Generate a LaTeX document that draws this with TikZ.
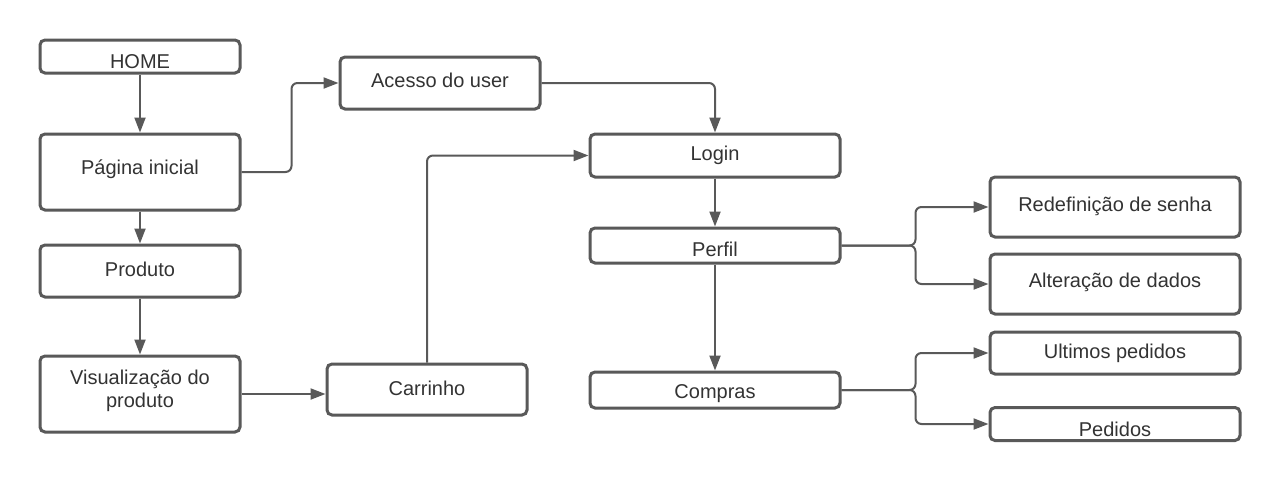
\documentclass[tikz,border=0pt]{standalone}
\usepackage{fontspec}
\setmainfont{Liberation Sans}
\usetikzlibrary{arrows.meta}
\definecolor{edge}{HTML}{595959}
\definecolor{txt}{HTML}{333333}
\newcommand{\txtshift}[2]{\raisebox{#1}[\height][\depth]{#2}}
\begin{document}
\begin{tikzpicture}[x=1pt,y=-1pt,
  box/.style={draw=edge, line width=3pt, rounded corners=5pt, fill=white,
    text=txt, font=\fontsize{20}{24}\selectfont, inner sep=0pt, align=center},
  conn/.style={draw=edge, line width=2pt, rounded corners=6pt,
    -{Triangle[length=15pt,width=11pt]}}]
\useasboundingbox[fill=white] (0,0) rectangle (1280,480);

\node[box, minimum width=200pt, minimum height=33pt] (home) at (140,56.5) {\txtshift{-5pt}{HOME}};
\node[box, minimum width=200pt, minimum height=76pt] (pag) at (140,172) {\txtshift{2.5pt}{Página inicial}};
\node[box, minimum width=200pt, minimum height=52pt] (prod) at (140,271) {\txtshift{1.5pt}{Produto}};
\node[box, minimum width=200pt, minimum height=76pt] (vis) at (140,394) {\txtshift{3pt}{\begin{tabular}{@{}c@{}}Visualização do\\[-0.5pt]produto\end{tabular}}};
\node[box, minimum width=200pt, minimum height=51pt] (car) at (427,389.5) {\txtshift{1.5pt}{Carrinho}};
\node[box, minimum width=200pt, minimum height=52pt] (acc) at (440,83) {\txtshift{3pt}{Acesso do user}};
\node[box, minimum width=250pt, minimum height=43pt] (login) at (715,155.5) {Login};
\node[box, minimum width=250pt, minimum height=35pt] (perfil) at (715,245.5) {\txtshift{-4pt}{Perfil}};
\node[box, minimum width=250pt, minimum height=36pt] (comp) at (715,390) {\txtshift{-3.5pt}{Compras}};
\node[box, minimum width=250pt, minimum height=60pt] (redef) at (1115,207) {\txtshift{1pt}{Redefinição de senha}};
\node[box, minimum width=250pt, minimum height=60pt] (alt) at (1115,284) {\txtshift{1.5pt}{Alteração de dados}};
\node[box, minimum width=250pt, minimum height=42pt] (ult) at (1115,353) {Ultimos pedidos};
\node[box, minimum width=250pt, minimum height=33pt] (ped) at (1115,424) {\txtshift{-5pt}{Pedidos}};

\draw[conn] (home) -- (pag);
\draw[conn] (pag) -- (prod);
\draw[conn] (prod) -- (vis);
\draw[conn] (vis.east) -- (vis.east -| car.west);
\draw[conn] (pag.east) -- ++(50,0) |- (acc.west);
\draw[conn] (car.north) |- (login.west);
\draw[conn] (acc.east) -| (login.north);
\draw[conn] (login) -- (perfil);
\draw[conn] (perfil) -- (comp);
\draw[conn] (perfil.east) -- ++(74,0) |- (redef.west);
\draw[conn] (perfil.east) -- ++(74,0) |- (alt.west);
\draw[conn] (comp.east) -- ++(74,0) |- (ult.west);
\draw[conn] (comp.east) -- ++(74,0) |- (ped.west);
\end{tikzpicture}
\end{document}
